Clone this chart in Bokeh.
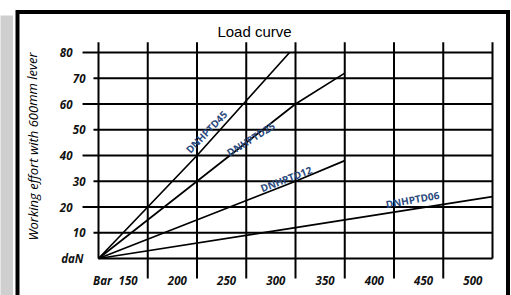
from bokeh.plotting import figure
from bokeh.models import Range1d
from bokeh.core.properties import value
from bokeh.embed import file_html
from bokeh.resources import INLINE
import math

# ---------------- data ----------------
title_text = "Load curve"
y_label_text = "Working effort with 600mm lever"

x_ticks = [100, 150, 200, 250, 300, 350, 400, 450, 500]
x_tick_labels = ["Bar", "150", "200", "250", "300", "350", "400", "450", "500"]
y_ticks = [0, 10, 20, 30, 40, 50, 60, 70, 80]
y_tick_labels = ["daN", "10", "20", "30", "40", "50", "60", "70", "80"]

series_names = ["DNHPTD45", "DNHPTD25", "DNHPTD12", "DNHPTD06"]
td45_x = [100, 200, 294]
td45_y = [0, 40, 80]
td25_x = [100, 200, 300, 350]
td25_y = [0, 30, 60, 72]
td12_x = [100, 300, 350]
td12_y = [0, 30, 38]
td06_x = [100, 300, 450, 500]
td06_y = [0, 12, 21, 24]

# label anchor positions (data units) and angles (degrees)
label_x = [209.5, 254.5, 290.4, 418.8]
label_y = [49.2, 46.4, 30.9, 22.9]
label_angle = [46, 32, 21, 10]

# ---------------- layout helpers ----------------
W, H = 511, 295
PX_PER_X = 0.985
PX_PER_Y = 2.575
X100_PAGE = 98.0
Y0_PAGE = 258.0
OFFSET = 0


def px2x(px):
    return 100 + (px - X100_PAGE) / PX_PER_X


def px2y(py):
    return (Y0_PAGE - py) / PX_PER_Y


p = figure(width=W, height=H, output_backend="svg", toolbar_location=None,
           x_range=Range1d(px2x(OFFSET), px2x(OFFSET + W)),
           y_range=Range1d(px2y(OFFSET + H), px2y(OFFSET)),
           x_axis_location=None, y_axis_location=None, min_border=0)
p.grid.visible = False
p.outline_line_color = None
p.background_fill_color = "white"
p.border_fill_color = "white"

# grey strip at left and thick frame
p.quad(left=[px2x(-5)], right=[px2x(12.5)], bottom=[px2y(300)], top=[px2y(15)],
       fill_color="#cfcfcf", line_color=None)
p.line([px2x(17), px2x(17), px2x(507.5), px2x(507.5)],
       [px2y(310), px2y(11.5), px2y(11.5), px2y(310)],
       line_color="black", line_width=4, line_join="miter")

# grid (with tick extensions)
x_top = 84.0
x_bottom_ext = -7.8
vx0, vy0, vx1, vy1 = [], [], [], []
for t in x_ticks:
    vx0.append(t)
    vx1.append(t)
    vy0.append(0 if t in (x_ticks[0], x_ticks[-1]) else x_bottom_ext)
    vy1.append(x_top)
p.segment(vx0, vy0, vx1, vy1, line_color="black", line_width=2)

hx0, hy0, hx1, hy1 = [], [], [], []
y_label_pos_x = []
for t in y_ticks:
    if t == 0:
        start = x_ticks[0]
        lab = 84.8
    elif t % 20 == 0:
        start = 83.8
        lab = 73.6
    else:
        start = 94.9
        lab = 86.8
    hx0.append(start)
    hx1.append(x_ticks[-1])
    hy0.append(t)
    hy1.append(t)
    y_label_pos_x.append(lab)
p.segment(hx0, hy0, hx1, hy1, line_color="black", line_width=2)

# tick labels
x_label_pos = [t - 20 if i > 0 else t + 4 for i, t in enumerate(x_ticks)]
p.text(x=x_label_pos, y=[-8.5] * len(x_ticks), text=x_tick_labels,
       text_font=value("Open Sans"), text_font_style="bold italic",
       text_font_size="11.5px", text_align="center", text_baseline="middle",
       text_color="#111111")
p.text(x=y_label_pos_x, y=y_ticks, text=y_tick_labels,
       text_font=value("Open Sans"), text_font_style="bold italic",
       text_font_size="11.5px", text_align="right", text_baseline="middle",
       text_color="#111111")

# series lines
for xs, ys in [(td45_x, td45_y), (td25_x, td25_y), (td12_x, td12_y), (td06_x, td06_y)]:
    p.line(xs, ys, line_color="black", line_width=1.7)

# series labels
p.text(x=label_x, y=label_y, text=series_names,
       angle=[math.radians(a) for a in label_angle],
       text_font=value("Open Sans"), text_font_style="bold",
       text_font_size="10px", text_align="center", text_baseline="middle",
       text_color="#2b4a7e")

# title and y label
p.text(x=[px2x(254)], y=[px2y(31)], text=[title_text],
       text_font=value("Liberation Sans"), text_font_size="15px",
       text_align="center", text_baseline="middle", text_color="black")
p.text(x=[px2x(32)], y=[px2y(146)], text=[y_label_text], angle=[math.pi / 2],
       text_font=value("Open Sans"), text_font_style="italic",
       text_font_size="13px", text_align="center", text_baseline="middle",
       text_color="black")

open("out.html", "w").write(file_html(p, INLINE))
